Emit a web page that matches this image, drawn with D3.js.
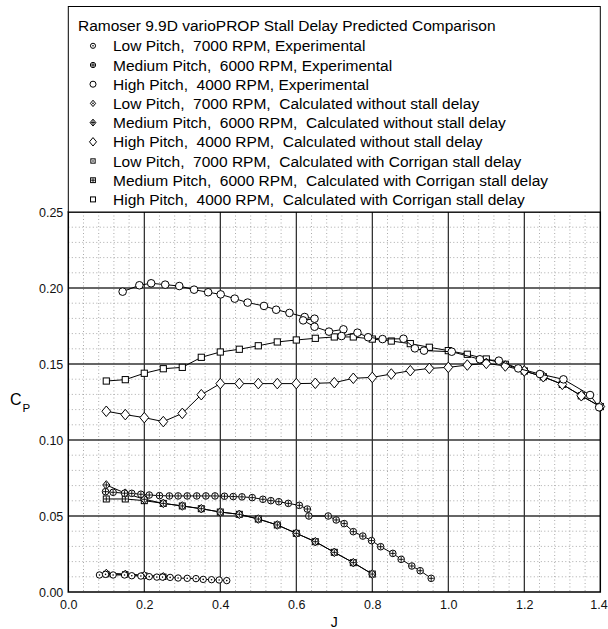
<!DOCTYPE html>
<html>
<head>
<meta charset="utf-8">
<script src="https://cdn.jsdelivr.net/npm/d3@7"></script>
<style>
  body { margin: 0; background: #fff; }
  text { font-family: "Liberation Sans", Arial, sans-serif; }
</style>
</head>
<body>
<svg></svg>
<script>
// values
const calcJ = [0.10, 0.15, 0.20, 0.25, 0.30, 0.35, 0.40, 0.45, 0.50, 0.55, 0.60, 0.65, 0.70, 0.75,
  0.80, 0.85, 0.90, 0.95, 1.00, 1.05, 1.10, 1.15, 1.20, 1.25, 1.30, 1.35, 1.40];

const highCorrigan = [0.1388, 0.1397, 0.1439, 0.1469, 0.1478, 0.1544, 0.1579, 0.1597, 0.1620, 0.1645,
  0.1658, 0.1669, 0.1678, 0.1678, 0.1664, 0.1651, 0.1634, 0.1610, 0.1588, 0.1564, 0.1533, 0.1498,
  0.1454, 0.1416, 0.1366, 0.1291, 0.1220];
const highNoStall = [0.1189, 0.1167, 0.1147, 0.1121, 0.1175, 0.1298, 0.1371, 0.1371, 0.1371, 0.1371,
  0.1371, 0.1373, 0.1377, 0.1406, 0.1412, 0.1434, 0.1456, 0.1471, 0.1478, 0.1493, 0.1504, 0.1487,
  0.1454, 0.1416, 0.1366, 0.1291, 0.1220];
const medCorrigan = [0.0612, 0.0612, 0.0601, 0.0583, 0.0566, 0.0548, 0.0526, 0.0511, 0.0480, 0.0441,
  0.0386, 0.0331, 0.0261, 0.0193, 0.0118];
const medNoStall = [0.0704, 0.0650, 0.0610, 0.0583, 0.0566, 0.0548, 0.0526, 0.0511, 0.0480, 0.0441,
  0.0386, 0.0331, 0.0261, 0.0193, 0.0118];
const lowCorrigan = [0.0118, 0.0116, 0.0108, 0.0100];
const lowNoStall = [0.0124, 0.0118, 0.0110, 0.0102];

const highExpJ = [0.143, 0.187, 0.218, 0.255, 0.292, 0.331, 0.368, 0.401, 0.438, 0.472, 0.515, 0.547,
  0.582, 0.622, 0.648, 0.618, 0.648, 0.686, 0.724, 0.719, 0.761, 0.789, 0.827, 0.882, 0.912, 0.936,
  1.009, 1.083, 1.133, 1.184, 1.241, 1.303, 1.373, 1.397];
const highExp = [0.1976, 0.2018, 0.2031, 0.2022, 0.2013, 0.1989, 0.1972, 0.1958, 0.1930, 0.1904,
  0.1882, 0.1857, 0.1836, 0.1809, 0.1798, 0.1787, 0.1745, 0.1713, 0.1728, 0.1684, 0.1706, 0.1676,
  0.1664, 0.1666, 0.1603, 0.1588, 0.1581, 0.1531, 0.1522, 0.1471, 0.1434, 0.1399, 0.1296, 0.1215];

const medExpJ = [0.098, 0.118, 0.148, 0.167, 0.191, 0.213, 0.240, 0.266, 0.289, 0.313, 0.338, 0.362,
  0.386, 0.411, 0.434, 0.457, 0.484, 0.512, 0.533, 0.554, 0.579, 0.608, 0.629, 0.633, 0.684, 0.705,
  0.726, 0.750, 0.775, 0.798, 0.822, 0.854, 0.876, 0.904, 0.926, 0.955];
const medExp = [0.0660, 0.0656, 0.0650, 0.0649, 0.0643, 0.0638, 0.0634, 0.0632, 0.0632, 0.0632, 0.0632,
  0.0632, 0.0632, 0.0630, 0.0628, 0.0626, 0.0621, 0.0610, 0.0601, 0.0594, 0.0583, 0.0570, 0.0546,
  0.0500, 0.0500, 0.0474, 0.0450, 0.0397, 0.0368, 0.0338, 0.0298, 0.0254, 0.0215, 0.0171, 0.0140, 0.0090];

const lowExpJ = [0.082, 0.098, 0.118, 0.148, 0.167, 0.191, 0.213, 0.233, 0.248, 0.268, 0.289, 0.313,
  0.336, 0.355, 0.377, 0.397, 0.417];
const lowExp = [0.0112, 0.0116, 0.0112, 0.0112, 0.0107, 0.0105, 0.0101, 0.0098, 0.0098, 0.0096, 0.0092,
  0.0090, 0.0088, 0.0083, 0.0081, 0.0079, 0.0075];

const legendTitle = "Ramoser 9.9D varioPROP Stall Delay Predicted Comparison";
const legendLabels = [
  "Low Pitch,  7000 RPM, Experimental",
  "Medium Pitch,  6000 RPM, Experimental",
  "High Pitch,  4000 RPM, Experimental",
  "Low Pitch,  7000 RPM,  Calculated without stall delay",
  "Medium Pitch,  6000 RPM,  Calculated without stall delay",
  "High Pitch,  4000 RPM,  Calculated without stall delay",
  "Low Pitch,  7000 RPM,  Calculated with Corrigan stall delay",
  "Medium Pitch,  6000 RPM,  Calculated with Corrigan stall delay",
  "High Pitch,  4000 RPM,  Calculated with Corrigan stall delay"
];
const xTicks = [0, 0.2, 0.4, 0.6, 0.8, 1.0, 1.2, 1.4];
const yTicks = [0, 0.05, 0.10, 0.15, 0.20, 0.25];

const svgWidth = 608, svgHeight = 629;
const plot = {left: 68.3, right: 600.3, top: 212, bottom: 592};

const svg = d3.select("svg").attr("width", svgWidth).attr("height", svgHeight);

const x = d3.scaleLinear().domain([0, 1.4]).range([plot.left, plot.right]);
const y = d3.scaleLinear().domain([0, 0.25]).range([plot.bottom, plot.top]);

// marker styles: shape, size, inner mark
const styles = [
  {shape: "circle", s: 3.2, inner: "dot"},
  {shape: "circle", s: 3.3, inner: "plus"},
  {shape: "circle", s: 3.8, inner: "none"},
  {shape: "diamond", s: 3.3, inner: "dot"},
  {shape: "diamond", s: 3.6, inner: "plus"},
  {shape: "diamond", s: 4.4, inner: "none"},
  {shape: "square", s: 2.7, inner: "dot"},
  {shape: "square", s: 3.0, inner: "plus"},
  {shape: "square", s: 3.1, inner: "none"}
];

const zip = (xs, ys) => ys.map((v, i) => ({j: xs[i], cp: v}));
const series = [
  {style: 6, pts: zip(calcJ, lowCorrigan)},
  {style: 3, pts: zip(calcJ, lowNoStall)},
  {style: 7, pts: zip(calcJ, medCorrigan)},
  {style: 4, pts: zip(calcJ, medNoStall)},
  {style: 8, pts: zip(calcJ, highCorrigan)},
  {style: 5, pts: zip(calcJ, highNoStall)},
  {style: 0, pts: zip(lowExpJ, lowExp)},
  {style: 1, pts: zip(medExpJ, medExp)},
  {style: 2, pts: zip(highExpJ, highExp)}
];

function drawMarker(g, st) {
  const s = st.s;
  let m;
  if (st.shape === "circle") {
    m = g.append("circle").attr("r", s);
  } else if (st.shape === "diamond") {
    m = g.append("path").attr("d", `M0,${-s * 1.2}L${s},0L0,${s * 1.2}L${-s},0Z`);
  } else {
    m = g.append("rect").attr("x", -s).attr("y", -s).attr("width", 2 * s).attr("height", 2 * s);
  }
  m.attr("fill", "white").attr("stroke", "black").attr("stroke-width", 1);
  if (st.inner === "dot") {
    g.append("circle").attr("r", 0.8).attr("fill", "black");
  } else if (st.inner === "plus") {
    const p = s * 0.8;
    g.append("path").attr("d", `M${-p},0H${p}M0,${-p}V${p}`)
      .attr("stroke", "black").attr("stroke-width", 0.9);
  }
}

// minor grid
const minorX = d3.range(0, 1.4001, 0.04).filter(d => Math.abs(d * 5 - Math.round(d * 5)) > 1e-6);
const minorY = d3.range(0, 0.2501, 0.01).filter(d => Math.abs(d * 20 - Math.round(d * 20)) > 1e-6);

const grid = svg.append("g");
grid.selectAll(".mx").data(minorX).join("line")
  .attr("x1", d => x(d)).attr("x2", d => x(d))
  .attr("y1", plot.top).attr("y2", plot.bottom)
  .attr("stroke", "#aaa").attr("stroke-dasharray", "1,2.5");
grid.selectAll(".my").data(minorY).join("line")
  .attr("y1", d => y(d)).attr("y2", d => y(d))
  .attr("x1", plot.left).attr("x2", plot.right)
  .attr("stroke", "#aaa").attr("stroke-dasharray", "1,2.5");

// major grid
grid.selectAll(".Mx").data(xTicks.slice(1, -1)).join("line")
  .attr("x1", d => x(d)).attr("x2", d => x(d))
  .attr("y1", plot.top).attr("y2", plot.bottom)
  .attr("stroke", "#111").attr("stroke-width", 1.1);
grid.selectAll(".My").data(yTicks.slice(1, -1)).join("line")
  .attr("y1", d => y(d)).attr("y2", d => y(d))
  .attr("x1", plot.left).attr("x2", plot.right)
  .attr("stroke", "#333").attr("stroke-width", 1.5);

// frame
svg.append("rect")
  .attr("x", plot.left).attr("y", plot.top)
  .attr("width", plot.right - plot.left).attr("height", plot.bottom - plot.top)
  .attr("fill", "none").attr("stroke", "black").attr("stroke-width", 1.5);

// axes
const xAxis = svg.append("g")
  .attr("transform", `translate(0,${plot.bottom})`)
  .call(d3.axisBottom(x).tickValues(xTicks).tickFormat(d3.format(".1f")).tickSize(0).tickPadding(8));
const yAxis = svg.append("g")
  .attr("transform", `translate(${plot.left},0)`)
  .call(d3.axisLeft(y).tickValues(yTicks).tickFormat(d3.format(".2f")).tickSize(0).tickPadding(5));
[xAxis, yAxis].forEach(a => {
  a.select(".domain").remove();
  a.selectAll("text").attr("font-size", 12.5).attr("fill", "#111")
    .style("font-family", '"Liberation Sans", Arial, sans-serif');
});
// keep the last x label inside the picture
xAxis.selectAll("text").filter(d => d === 1.4).attr("dx", "-0.15em");

svg.append("text").attr("x", (plot.left + plot.right) / 2).attr("y", 627)
  .attr("text-anchor", "middle").attr("font-size", 14).text("J");
const cp = svg.append("text").attr("x", 10).attr("y", 405).attr("font-size", 16);
cp.append("tspan").text("C");
cp.append("tspan").attr("font-size", 11.5).attr("dy", 7).attr("dx", 1).text("P");

// series
const line = d3.line().x(d => x(d.j)).y(d => y(d.cp));
series.forEach(sr => {
  const st = styles[sr.style];
  const g = svg.append("g");
  g.append("path").datum(sr.pts).attr("d", line)
    .attr("fill", "none").attr("stroke", "black").attr("stroke-width", 1);
  g.selectAll("g").data(sr.pts).join("g")
    .attr("transform", d => `translate(${x(d.j)},${y(d.cp)})`)
    .each(function () { drawMarker(d3.select(this), st); });
});

// legend
const leg = svg.append("g");
leg.append("rect").attr("x", plot.left).attr("y", 6.5)
  .attr("width", plot.right - plot.left).attr("height", plot.top - 6.5)
  .attr("fill", "white").attr("stroke", "black").attr("stroke-width", 1);
leg.append("text").attr("x", 78).attr("y", 30.5).attr("font-size", 15.5).text(legendTitle);
legendLabels.forEach((lab, i) => {
  const cy = 45.8 + i * 19.2;
  const mg = leg.append("g").attr("transform", `translate(93,${cy})`);
  drawMarker(mg, {shape: styles[i].shape, s: styles[i].s * 0.8, inner: styles[i].inner});
  leg.append("text").attr("x", 113).attr("y", cy + 5.5).attr("font-size", 15.5)
    .style("white-space", "pre").text(lab);
});
</script>
</body>
</html>
